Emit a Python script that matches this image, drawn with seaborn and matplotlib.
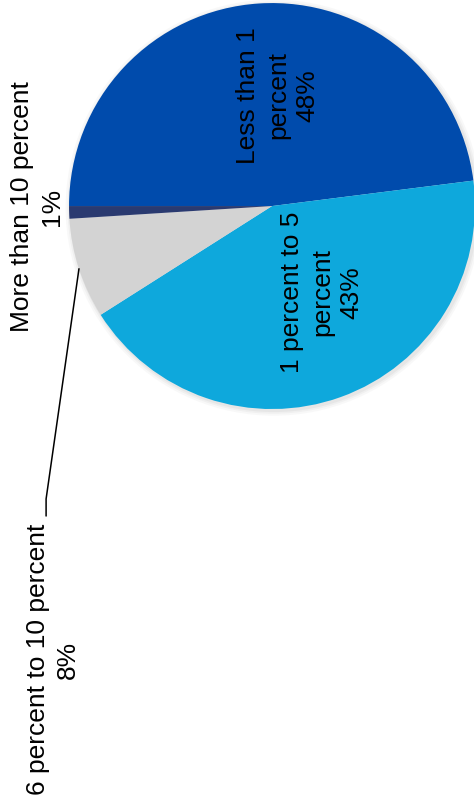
import numpy as np
import seaborn as sns
import matplotlib
matplotlib.use("Agg")
import matplotlib.pyplot as plt
from matplotlib.patches import Circle

# data
categories = ["Less than 1\npercent", "1 percent to 5\npercent",
              "6 percent to 10 percent", "More than 10 percent"]
shares = [48, 43, 8, 1]
colors = ["#004BAC", "#0EA8DC", "#D3D3D3", "#2A3A70"]

# label centres in pie-radius units (text only)
label_pos = [(0.03, 0.55), (0.246, -0.42), (-1.079, -2.23), (-1.158, 0.0)]

sns.set_theme(style="white")
plt.rcParams["font.family"] = ["Liberation Sans", "DejaVu Sans"]

fig = plt.figure(figsize=(4.74, 8.03), dpi=100)
ax = fig.add_axes([0, 0, 1, 1])

# faint soft shadow behind the pie
for r, a in [(1.025, 0.05), (1.015, 0.07), (1.007, 0.09)]:
    ax.add_patch(Circle((0.008, -0.008), r, color="#888888", alpha=a, lw=0, zorder=0))

wedges, _ = ax.pie(shares, colors=colors, startangle=180, counterclock=False,
                   radius=1.0, center=(0, 0),
                   wedgeprops=dict(linewidth=0, zorder=1))

for cat, val, (x, y) in zip(categories, shares, label_pos):
    ax.text(x, y, f"{cat}\n{val}%", rotation=90, ha="center", va="center",
            multialignment="center", fontsize=19, color="black",
            linespacing=1.3)

# leader line for the small grey slice
w = wedges[2]
mid = np.deg2rad((w.theta1 + w.theta2) / 2)
x0, y0 = np.cos(mid), np.sin(mid)
ax.plot([x0, -1.113, -1.113], [y0, -1.443, -1.527], color="black", lw=1.1)

ax.set_xlim(-1.340, 0.995)
ax.set_ylim(-2.936, 1.020)
ax.axis("off")

fig.savefig("out.png", dpi=100)
